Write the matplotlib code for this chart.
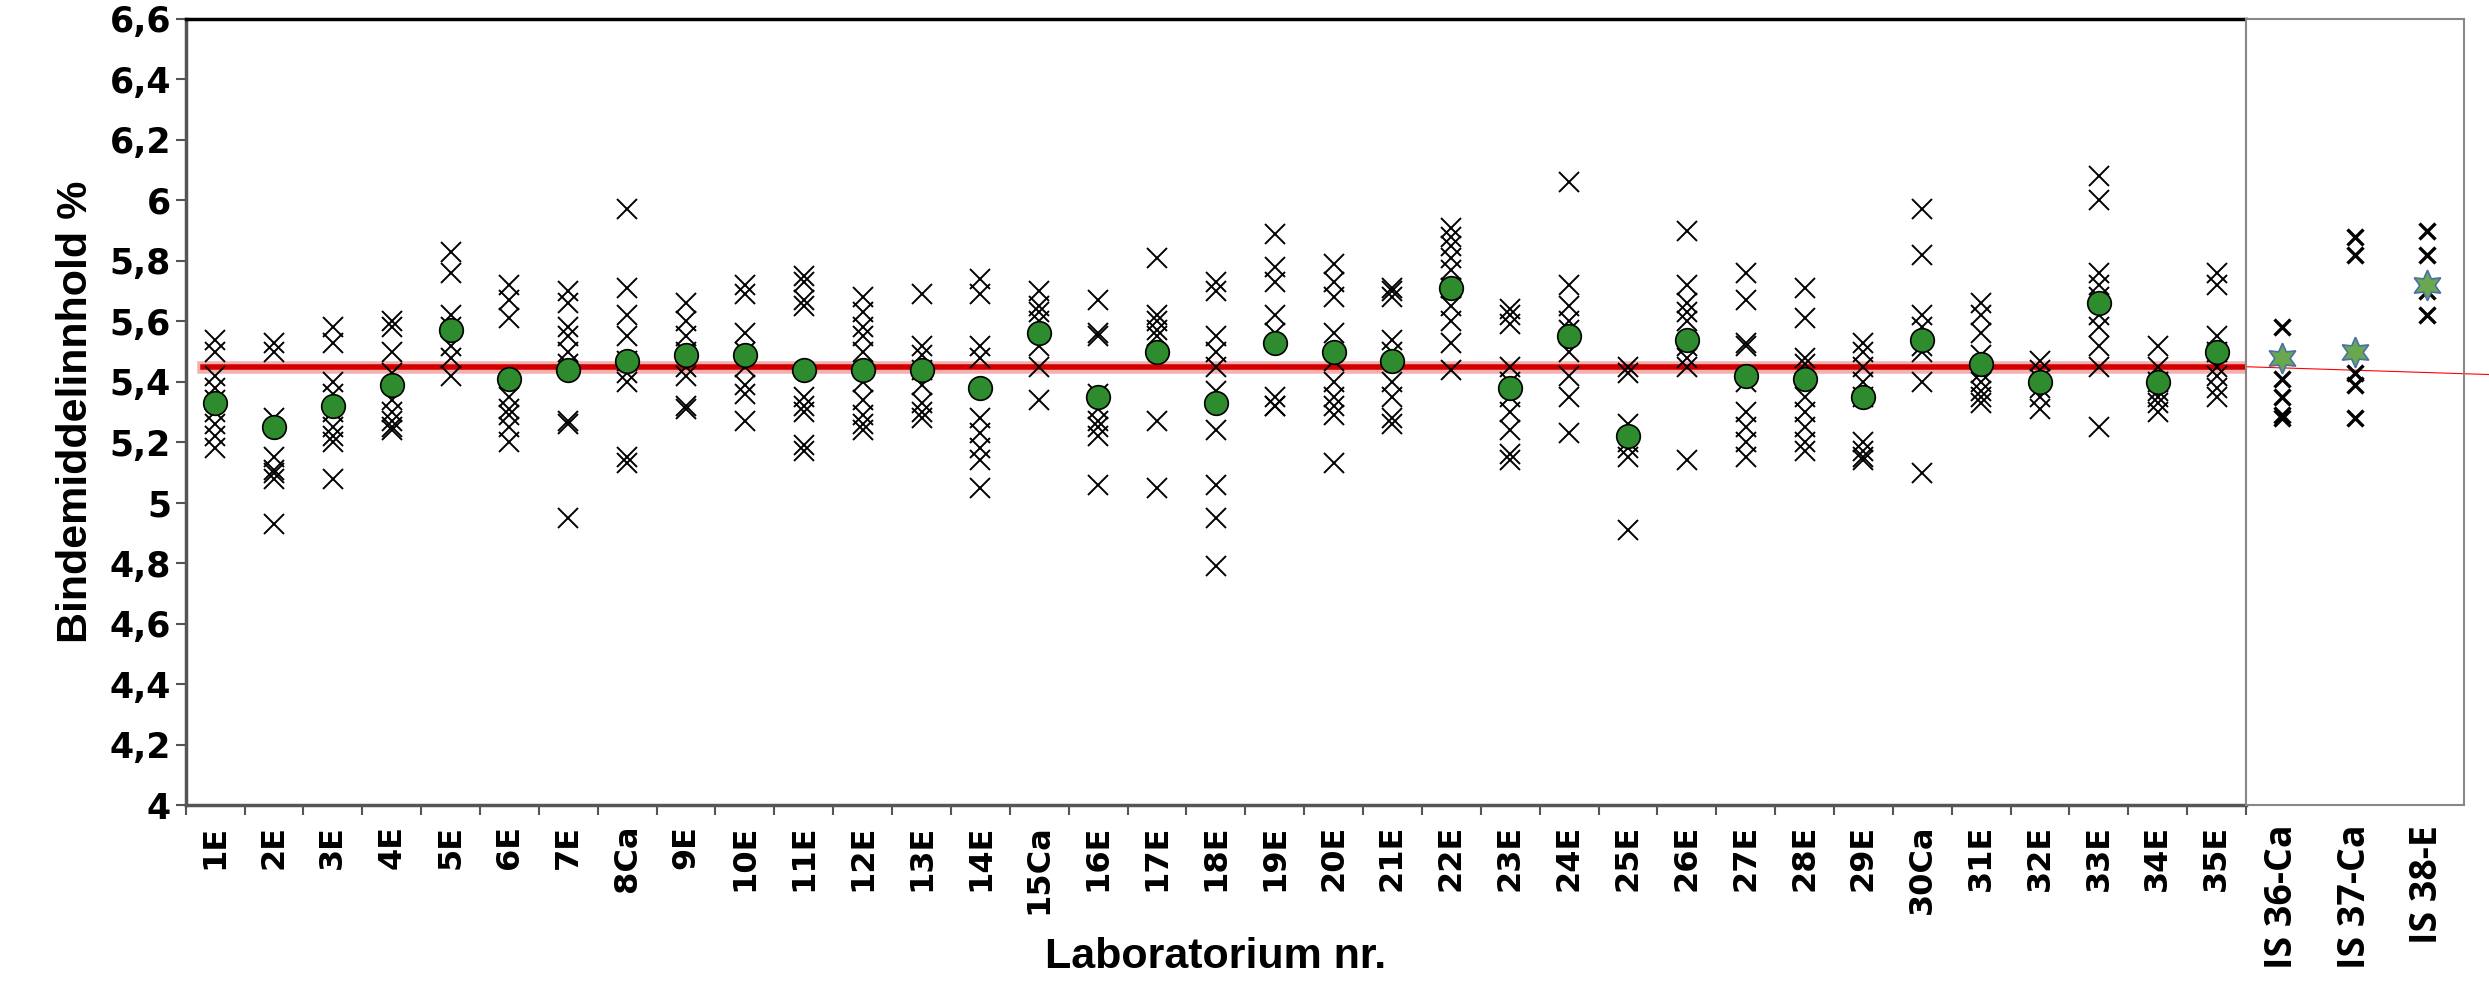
import numpy as np
import matplotlib.pyplot as plt

labs = ['1E','2E','3E','4E','5E','6E','7E','8Ca','9E','10E','11E','12E','13E','14E','15Ca',
        '16E','17E','18E','19E','20E','21E','22E','23E','24E','25E','26E','27E','28E','29E',
        '30Ca','31E','32E','33E','34E','35E']
means = [5.33,5.25,5.32,5.39,5.57,5.41,5.44,5.47,5.49,5.49,5.44,5.44,5.44,5.38,5.56,
         5.35,5.50,5.33,5.53,5.50,5.47,5.71,5.38,5.55,5.22,5.54,5.42,5.41,5.35,
         5.54,5.46,5.40,5.66,5.40,5.50]
results = [
    [5.54,5.50,5.42,5.38,5.34,5.30,5.26,5.22,5.18],
    [5.53,5.50,5.28,5.15,5.11,5.10,5.08,4.93],
    [5.58,5.53,5.40,5.36,5.30,5.25,5.22,5.20,5.08],
    [5.60,5.58,5.50,5.43,5.34,5.30,5.27,5.25,5.24],
    [5.83,5.76,5.62,5.58,5.52,5.48,5.42],
    [5.72,5.67,5.61,5.35,5.31,5.29,5.25,5.20],
    [5.70,5.66,5.58,5.55,5.50,5.46,5.27,5.26,4.95],
    [5.97,5.71,5.62,5.55,5.47,5.43,5.40,5.15,5.13],
    [5.66,5.60,5.55,5.50,5.45,5.42,5.32,5.31],
    [5.72,5.69,5.56,5.50,5.45,5.39,5.36,5.27],
    [5.75,5.73,5.67,5.65,5.35,5.32,5.30,5.19,5.17],
    [5.68,5.63,5.58,5.55,5.50,5.40,5.34,5.29,5.26,5.24],
    [5.69,5.52,5.49,5.44,5.39,5.33,5.30,5.28],
    [5.74,5.69,5.52,5.48,5.28,5.23,5.18,5.14,5.05],
    [5.70,5.65,5.63,5.60,5.52,5.45,5.34],
    [5.67,5.56,5.55,5.36,5.31,5.27,5.25,5.22,5.06],
    [5.81,5.62,5.60,5.57,5.55,5.27,5.05],
    [5.73,5.70,5.55,5.50,5.45,5.37,5.24,5.06,4.95,4.79],
    [5.89,5.78,5.73,5.62,5.56,5.35,5.32,5.32],
    [5.79,5.73,5.68,5.56,5.47,5.40,5.35,5.32,5.29,5.13],
    [5.71,5.70,5.68,5.54,5.50,5.40,5.35,5.28,5.26],
    [5.91,5.88,5.85,5.81,5.77,5.71,5.65,5.60,5.53,5.44],
    [5.64,5.62,5.59,5.45,5.40,5.35,5.30,5.24,5.16,5.14],
    [6.06,5.72,5.65,5.60,5.57,5.50,5.42,5.35,5.23],
    [5.45,5.43,5.26,5.20,5.18,5.15,4.91],
    [5.90,5.72,5.66,5.63,5.60,5.52,5.48,5.45,5.14],
    [5.76,5.67,5.53,5.52,5.40,5.30,5.25,5.20,5.15],
    [5.71,5.61,5.48,5.46,5.35,5.30,5.25,5.20,5.17],
    [5.53,5.50,5.45,5.40,5.35,5.20,5.17,5.15,5.14],
    [5.97,5.82,5.62,5.58,5.52,5.50,5.40,5.10],
    [5.66,5.62,5.56,5.49,5.43,5.40,5.37,5.35,5.33],
    [5.47,5.44,5.41,5.38,5.35,5.31],
    [6.08,6.00,5.76,5.72,5.68,5.62,5.58,5.52,5.45,5.25],
    [5.52,5.45,5.40,5.37,5.35,5.33,5.30],
    [5.76,5.72,5.55,5.50,5.45,5.42,5.38,5.35],
]
is_labs = ['IS 36-Ca','IS 37-Ca','IS 38-E']
is_means = [5.48,5.50,5.72]
is_results = [[5.58,5.41,5.35,5.29,5.28],
              [5.88,5.82,5.43,5.39,5.28],
              [5.90,5.82,5.70,5.62]]
ref_value = 5.45

plt.rcParams['font.family'] = ['DejaVu Sans Condensed', 'DejaVu Sans']
fig = plt.figure(figsize=(24.89, 9.99), dpi=100)
ax = fig.add_axes([0.0746, 0.194, 0.8278, 0.787])
ax2 = fig.add_axes([0.9024, 0.194, 0.0874, 0.787])

x = np.arange(len(labs))
for i, vals in enumerate(results):
    ax.plot([x[i]] * len(vals), vals, 'x', color='black', ms=15, mew=1.4, zorder=3)
ax.plot(x, means, 'o', color='#2e8b2e', mec='black', mew=1.2, ms=17, zorder=4)
ax.plot([x[0] - 0.2, x[-1] + 0.5], [ref_value, ref_value], color='#d00000', lw=4, zorder=2)
ax.plot([x[0] - 0.2, x[-1] + 0.5], [ref_value, ref_value], color='#f4b0b0', lw=9, zorder=1)

ax.set_xlim(-0.5, len(labs) - 0.5)
ax.set_ylim(4, 6.6)
ax.set_yticks(np.arange(4, 6.61, 0.2))
ax.set_yticklabels([('%.1f' % v).replace('.', ',').replace(',0', '') for v in np.arange(4, 6.61, 0.2)],
                   fontsize=25, fontweight='bold')
ax.set_xticks(np.arange(len(labs) + 1) - 0.5, minor=False)
ax.set_xticklabels([])
ax.set_xticks(x, minor=True)
ax.set_xticklabels(labs, minor=True, rotation=90, fontsize=23, fontweight='bold')
ax.tick_params(axis='x', which='minor', length=0, pad=14)
ax.tick_params(axis='x', which='major', length=7, width=1.5, color='#555555')
ax.tick_params(axis='y', length=7, width=1.5, color='#555555')
for s in ['left', 'bottom']:
    ax.spines[s].set_color('#555555')
    ax.spines[s].set_linewidth(2.5)
ax.spines['top'].set_linewidth(2.5)
ax.spines['right'].set_color('#777777')
ax.set_ylabel('Bindemiddelinnhold %', fontsize=31, fontweight='bold', family='Liberation Sans', labelpad=10)
ax.set_xlabel('Laboratorium nr.', fontsize=31, fontweight='bold', family='Liberation Sans', labelpad=16)

xi = np.arange(len(is_labs))
for i, vals in enumerate(is_results):
    ax2.plot([xi[i]] * len(vals), vals, 'x', color='black', ms=12, mew=2.4, zorder=3)
ax2.plot(xi, is_means, marker=(6, 1, 0), ls='none', color='#6aa84f', mec='#4a6fa5', mew=1.2, ms=22, zorder=4)
ax2.plot([-0.5, 3.4], [ref_value, 5.42], color='red', lw=0.8, clip_on=False)
ax2.set_xlim(-0.5, 2.5)
ax2.set_ylim(4, 6.6)
ax2.set_yticks([])
ax2.set_xticks(xi)
ax2.set_xticklabels(is_labs, rotation=90, fontsize=27, fontweight='bold', family='Open Sans')
ax2.tick_params(axis='x', length=0, pad=14)
for s in ax2.spines.values():
    s.set_color('#888888')
    s.set_linewidth(1.5)

fig.savefig('out.png', dpi=100)
